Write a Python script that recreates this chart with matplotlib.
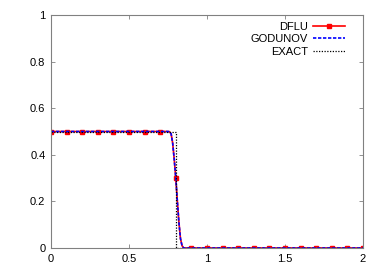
import numpy as np
import matplotlib
matplotlib.use("Agg")
import matplotlib.pyplot as plt

# DFLU / GODUNOV profile
x_num = [0.0, 0.1, 0.2, 0.3, 0.4, 0.5, 0.6, 0.7, 0.74, 0.75, 0.76, 0.77, 0.78,
         0.79, 0.80, 0.81, 0.82, 0.83, 0.84, 0.85, 0.9, 1.0, 1.1, 1.2, 1.3,
         1.4, 1.5, 1.6, 1.7, 1.8, 1.9, 2.0]
dflu = [0.5, 0.5, 0.5, 0.5, 0.5, 0.5, 0.5, 0.5, 0.5, 0.5, 0.499, 0.49, 0.45,
        0.38, 0.30, 0.20, 0.11, 0.04, 0.01, 0.0, 0.0, 0.0, 0.0, 0.0, 0.0,
        0.0, 0.0, 0.0, 0.0, 0.0, 0.0, 0.0]
godunov = list(dflu)

# markers every 0.1
x_mark = [0.0, 0.1, 0.2, 0.3, 0.4, 0.5, 0.6, 0.7, 0.8, 0.9, 1.0, 1.1, 1.2,
          1.3, 1.4, 1.5, 1.6, 1.7, 1.8, 1.9, 2.0]
mark_idx = [x_num.index(v) for v in x_mark]

x_exact = [0.0, 0.8, 0.8, 2.0]
exact = [0.5, 0.5, 0.0, 0.0]

plt.rcParams['font.family'] = ['Liberation Sans', 'DejaVu Sans']

fig = plt.figure(figsize=(3.89, 2.73), dpi=100)
ax = fig.add_axes([51 / 389, 25 / 273, 312 / 389, 233 / 273])

ax.plot(x_num, dflu, color='red', lw=1.2, marker='s', markersize=2.4,
        markevery=mark_idx, label='DFLU')
ax.plot(x_num, godunov, color='blue', lw=1.2, ls=(0, (2, 1)), label='GODUNOV')
ax.plot(x_exact, exact, color='black', lw=0.9, ls=(0, (1, 1.2)), label='EXACT')

ax.set_xlim(0, 2)
ax.set_ylim(0, 1)
ax.set_xticks([0, 0.5, 1, 1.5, 2])
ax.set_xticklabels(['0', '0.5', '1', '1.5', '2'])
ax.set_yticks([0, 0.2, 0.4, 0.6, 0.8, 1])
ax.set_yticklabels(['0', '0.2', '0.4', '0.6', '0.8', '1'])
ax.tick_params(direction='in', length=3, width=0.6, color='#808080',
               top=True, right=True, labelsize=8, pad=4)
for s in ax.spines.values():
    s.set_color('#808080')
    s.set_linewidth(0.8)

leg = ax.legend(loc='upper right', frameon=False, markerfirst=False,
                fontsize=8, handlelength=2.9, handletextpad=0.5,
                labelspacing=0.22, borderaxespad=0.2,
                bbox_to_anchor=(0.965, 1.0))
for t in leg.get_texts():
    t.set_ha('right')
leg._legend_box.align = 'right'

fig.savefig('out.png', dpi=100)
